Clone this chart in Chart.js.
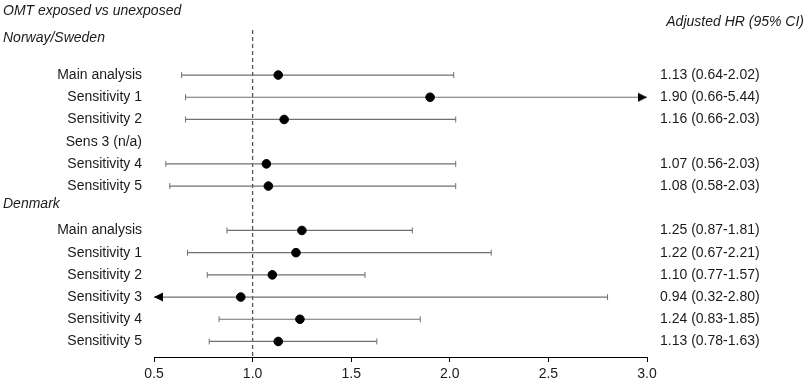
<!DOCTYPE html>
<html>
<head>
<meta charset="utf-8">
<script src="https://cdn.jsdelivr.net/npm/chart.js@4/dist/chart.umd.min.js"></script>
<style>
  body { margin: 0; background: #fff; }
  #wrap { width: 809px; height: 383px; position: relative; }
</style>
</head>
<body>
<div id="wrap"><canvas id="forest"></canvas></div>
<script>
const X_MIN = 0.5;
const X_MAX = 3.0;
const X_TICKS = [0.5, 1.0, 1.5, 2.0, 2.5, 3.0];
const REF_HR = 1.0;

const nsLabels = ['Main analysis', 'Sensitivity 1', 'Sensitivity 2', 'Sens 3 (n/a)', 'Sensitivity 4', 'Sensitivity 5'];
const nsHR     = [1.13, 1.90, 1.16, null, 1.07, 1.08];
const nsLo     = [0.64, 0.66, 0.66, null, 0.56, 0.58];
const nsHi     = [2.02, 5.44, 2.03, null, 2.03, 2.03];
const nsRows   = [0, 1, 2, 3, 4, 5];

const dkLabels = ['Main analysis', 'Sensitivity 1', 'Sensitivity 2', 'Sensitivity 3', 'Sensitivity 4', 'Sensitivity 5'];
const dkHR     = [1.25, 1.22, 1.10, 0.94, 1.24, 1.13];
const dkLo     = [0.87, 0.67, 0.77, 0.32, 0.83, 0.78];
const dkHi     = [1.81, 2.21, 1.57, 2.80, 1.85, 1.63];
const dkRows   = [7, 8, 9, 10, 11, 12];

const TITLE     = 'OMT exposed vs unexposed';
const HR_HEADER = 'Adjusted HR (95% CI)';
const GROUPS    = [{ name: 'Norway/Sweden', pos: -1.67 }, { name: 'Denmark', pos: 5.81 }];

const FONT  = 'Arial, "Liberation Sans", sans-serif';
const INK   = '#1a1a1a';
const WHISK = '#707070';

const rowPos    = nsRows.concat(dkRows);
const rowLabels = nsLabels.concat(dkLabels);
const rowHR     = nsHR.concat(dkHR);
const rowLo     = nsLo.concat(dkLo);
const rowHi     = nsHi.concat(dkHi);
const rowText   = rowHR.map((hr, i) => hr === null ? '' :
  `${hr.toFixed(2)} (${rowLo[i].toFixed(2)}-${rowHi[i].toFixed(2)})`);

// arrow head as a point image: tip sits at the image centre, pointing right
function makeArrow() {
  const c = document.createElement('canvas');
  c.width = 20; c.height = 10;
  const g = c.getContext('2d');
  g.fillStyle = '#000';
  g.beginPath();
  g.moveTo(10, 5); g.lineTo(1, 0.5); g.lineTo(1, 9.5);
  g.closePath(); g.fill();
  return c;
}
const ARROW = makeArrow();

// one dataset per CI whisker, arrow at the end when the CI runs off the axis
const whiskers = rowPos.map((y, i) => {
  if (rowLo[i] === null) return null;
  const offL = rowLo[i] < X_MIN, offR = rowHi[i] > X_MAX;
  return {
    type: 'line',
    data: [{ x: Math.max(rowLo[i], X_MIN), y }, { x: Math.min(rowHi[i], X_MAX), y }],
    borderColor: WHISK, borderWidth: 1.2,
    pointStyle: [offL ? ARROW : 'line', offR ? ARROW : 'line'],
    rotation: [offL ? 180 : 90, offR ? 0 : 90],
    pointRadius: 3,
    pointBackgroundColor: WHISK,
    pointBorderColor: WHISK,
    pointBorderWidth: 1,
    clip: false,
    order: 2,
  };
}).filter(Boolean);

const estimates = {
  type: 'scatter',
  data: rowPos.map((y, i) => ({ x: rowHR[i], y })).filter(p => p.x !== null),
  backgroundColor: '#000', borderColor: '#000',
  pointRadius: 4.3, pointStyle: 'circle',
  clip: false,
  order: 1,
};

const refLine = {
  type: 'line',
  data: [{ x: REF_HR, y: -2.03 }, { x: REF_HR, y: 12.7 }],
  borderColor: '#555', borderWidth: 1.3, borderDash: [4, 3],
  pointRadius: 0,
  order: 3,
};

const headerText = {
  id: 'headerText',
  afterDraw(chart) {
    const ctx = chart.ctx, y = chart.scales.y;
    ctx.save();
    ctx.fillStyle = INK;
    ctx.font = `italic 14px ${FONT}`;
    ctx.textBaseline = 'middle';
    ctx.textAlign = 'left';
    ctx.fillText(TITLE, 3, 11);
    GROUPS.forEach(g => ctx.fillText(g.name, 3, y.getPixelForValue(g.pos)));
    ctx.textAlign = 'right';
    ctx.fillText(HR_HEADER, 804, 22);
    ctx.restore();
  },
};

const rowTicks = axis => { axis.ticks = rowPos.map(v => ({ value: v })); };

new Chart(document.getElementById('forest'), {
  data: { datasets: [refLine, ...whiskers, estimates] },
  options: {
    responsive: true, maintainAspectRatio: false, animation: false,
    layout: { padding: { top: 24, left: 0, right: 0, bottom: 0 } },
    plugins: { legend: { display: false }, tooltip: { enabled: false } },
    scales: {
      x: {
        type: 'linear', min: X_MIN, max: X_MAX,
        afterBuildTicks: axis => { axis.ticks = X_TICKS.map(v => ({ value: v })); },
        afterFit: s => { s.height = 26; },
        border: { display: true, color: '#000', width: 1 },
        grid: { drawOnChartArea: false, drawTicks: true, tickLength: 5, color: '#000' },
        ticks: { padding: 4, color: INK, font: { family: FONT, size: 14 }, callback: v => v.toFixed(1) },
      },
      y: {
        type: 'linear', position: 'left', reverse: true, min: -2.3, max: 12.7,
        afterBuildTicks: rowTicks,
        afterFit: s => { s.width = 154; },
        border: { display: false },
        grid: { display: false, drawTicks: false },
        ticks: { autoSkip: false, padding: 12, color: INK, font: { family: FONT, size: 14 },
                 callback: (v, i) => rowLabels[i] },
      },
      yR: {
        type: 'linear', position: 'right', display: true, reverse: true, min: -2.3, max: 12.7,
        afterBuildTicks: rowTicks,
        afterFit: s => { s.width = 162; },
        border: { display: false },
        grid: { display: false, drawTicks: false },
        ticks: { autoSkip: false, padding: 13, color: INK, font: { family: FONT, size: 14 },
                 callback: (v, i) => rowText[i] },
      },
    },
  },
  plugins: [headerText],
});
</script>
</body>
</html>
